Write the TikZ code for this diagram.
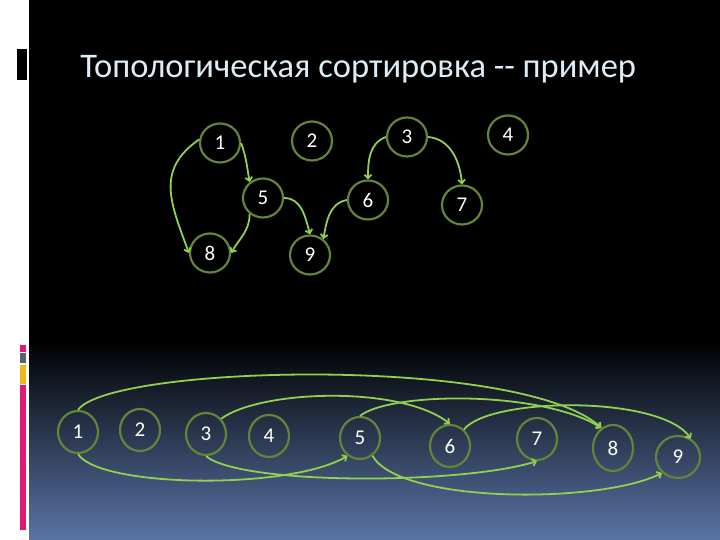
\documentclass[tikz,border=0pt]{standalone}
\usepackage{fontspec}
\setmainfont{Carlito}
\usetikzlibrary{shapes.geometric,arrows.meta}
\definecolor{rim}{RGB}{100,132,58}
\definecolor{lime}{RGB}{146,208,80}
\definecolor{sky}{RGB}{90,116,166}
\definecolor{rose}{RGB}{226,24,116}
\definecolor{slate}{RGB}{88,98,110}
\definecolor{gold}{RGB}{242,182,22}
\definecolor{pale}{RGB}{222,236,246}
\begin{document}
\begin{tikzpicture}[x=1pt, y=1pt, thick,
	vert/.style = {draw=rim, line width=2.2pt, ellipse, minimum width=40pt, minimum height=39pt, inner sep=0pt, text=white, font=\fontsize{21}{21}\selectfont},
	arc/.style = {draw=lime, line width=1.8pt, -{Straight Barb[length=3.5pt,width=7pt]}}]

		\useasboundingbox (0,0) rectangle (720,540);
		\fill[white] (0,0) rectangle (720,540);
		\fill[black] (29,0) rectangle (720,540);
		\shade[top color=black, bottom color=sky] (29,0) rectangle (720,200);
		\fill[black] (17,460) rectangle (27,491);
		\fill[rose] (20,188) rectangle (26,195);
		\fill[slate] (20,177) rectangle (26,187);
		\fill[gold] (20,156) rectangle (26,175);
		\fill[rose] (20,10) rectangle (26,155);

		\node[anchor=base west, inner sep=0pt, text=pale, font=\fontsize{34.5}{34.5}\selectfont] (title) at (80,462) {Топологическая сортировка -{}- пример};

		\node[vert] (t1) at (220,397) {1};
		\node[vert] (t2) at (312,399) {2};
		\node[vert] (t3) at (407,403) {3};
		\node[vert] (t4) at (508,405) {4};
		\node[vert] (t5) at (263,342) {5};
		\node[vert] (t6) at (368,340) {6};
		\node[vert] (t7) at (462,335) {7};
		\node[vert] (t8) at (210,287) {8};
		\node[vert] (t9) at (310,285) {9};

		\draw[arc] (t1.170) to[out=215, in=110, looseness=1.2] (t8.west);
		\draw[arc] (t1.east) to[out=-70, in=100] (t5.130);
		\draw[arc] (t5.230) to[out=-90, in=60] (t8.east);
		\draw[arc] (t5.east) to[out=0, in=105] (t9.north);
		\draw[arc] (t6.west) to[out=190, in=80] (t9.50);
		\draw[arc] (t3.west) to[out=200, in=90] (t6.north);
		\draw[arc] (t3.east) to[out=-5, in=95] (t7.north);

		\node[vert, minimum height=42pt] (b1) at (78,108) {1};
		\node[vert, minimum height=42pt] (b2) at (140,110) {2};
		\node[vert, minimum height=42pt] (b3) at (206,106) {3};
		\node[vert, minimum height=42pt] (b4) at (269,104) {4};
		\node[vert, minimum height=42pt] (b5) at (360,102) {5};
		\node[vert, minimum height=42pt] (b6) at (450,94) {6};
		\node[vert, minimum height=42pt] (b7) at (537,101) {7};
		\node[vert, minimum height=46pt] (b8) at (613,92) {8};
		\node[vert, minimum width=44pt, minimum height=42pt] (b9) at (678,83) {9};

		\draw[arc] (b1.north) .. controls (110,175) and (520,185) .. (b8.120);
		\draw[arc] (b3.45) .. controls (260,150) and (400,155) .. (b6.north);
		\draw[arc] (b5.north) .. controls (390,148) and (540,150) .. (b8.120);
		\draw[arc] (b6.50) .. controls (490,143) and (660,145) .. (b9.55);
		\draw[arc] (b1.south) .. controls (100,52) and (290,50) .. (b5.235);
		\draw[arc] (b3.south) .. controls (240,55) and (460,55) .. (b7.south);
		\draw[arc] (b5.305) .. controls (400,36) and (600,36) .. (b9.225);
	\end{tikzpicture}
\end{document}
